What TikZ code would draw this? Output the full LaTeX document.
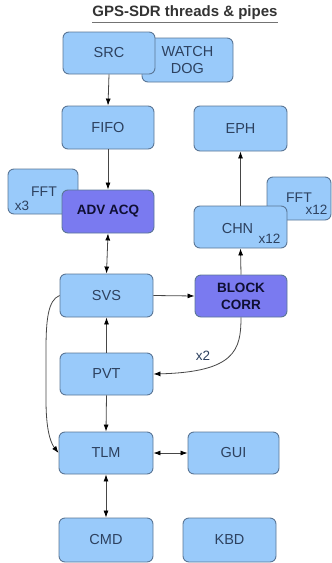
\documentclass[tikz,border=0pt]{standalone}
\usepackage{fontspec}
\setmainfont{Liberation Sans}
\usetikzlibrary{arrows.meta}
\definecolor{boxfill}{RGB}{153,202,250}
\definecolor{boxline}{RGB}{90,118,150}
\definecolor{darkfill}{RGB}{122,122,240}
\definecolor{txt}{RGB}{45,65,95}
\definecolor{darktxt}{RGB}{15,15,50}
\definecolor{arrowcol}{RGB}{70,70,70}
\tikzset{
  box/.style={draw=boxline, fill=boxfill, rounded corners=6pt, line width=0.9pt,
    text=txt, font=\fontsize{14.5}{17}\selectfont, inner sep=0pt, align=center},
  darkbox/.style={box, fill=darkfill, text=darktxt, font=\fontsize{13.5}{17}\selectfont\bfseries},
  small/.style={text=txt, font=\fontsize{13.5}{15}\selectfont, inner sep=0pt},
  conn/.style={draw=arrowcol, line width=0.8pt, -{Latex[length=7pt,width=5pt,color=black]}},
  dconn/.style={draw=arrowcol, line width=0.8pt, {Latex[length=7pt,width=5pt,color=black]}-{Latex[length=7pt,width=5pt,color=black]}}
}
\begin{document}
\begin{tikzpicture}[x=1pt,y=-1pt]
\useasboundingbox (0,0) rectangle (332,563);
% title
\node[text=black!80, font=\fontsize{15}{17}\selectfont\bfseries, inner sep=0pt] (title) at (185,13) {GPS-SDR threads \& pipes};
\draw[black!55, line width=0.8pt] ([yshift=-2pt]title.south west) -- ([yshift=-2pt]title.south east);
% background boxes
\node[box, minimum width=91pt, minimum height=44pt] (wd) at (187.5,60) {WATCH\\DOG};
\node[box, minimum width=70pt, minimum height=45pt] (fft3) at (43,191.5) {};
\node[small, font=\fontsize{14}{15}\selectfont] (fft3t) at (44,192) {FFT};
\node[small] (x3) at (22,206) {x3};
\node[box, minimum width=64pt, minimum height=43pt] (fft12) at (299,198.5) {};
\node[small, font=\fontsize{14}{15}\selectfont] (fft12t) at (299,197.5) {FFT};
\node[small] (x12a) at (316.5,210) {x12};
% main boxes
\node[box, minimum width=92pt, minimum height=42pt] (src) at (109,53) {SRC};
\node[box, minimum width=92pt, minimum height=43pt] (fifo) at (108,127.5) {FIFO};
\node[box, minimum width=93pt, minimum height=45pt] (eph) at (240.5,128.5) {EPH};
\node[darkbox, minimum width=92pt, minimum height=43pt] (adv) at (108,211.5) {ADV ACQ};
\node[box, minimum width=93pt, minimum height=42pt] (chn) at (240.5,227) {};
\node[inner sep=0pt, text=txt, font=\fontsize{14.5}{17}\selectfont] (chnt) at (237.5,228.5) {CHN};
\node[small] (x12b) at (269.5,239) {x12};
\node[box, minimum width=93pt, minimum height=43pt] (svs) at (106.5,295.5) {SVS};
\node[darkbox, minimum width=92pt, minimum height=42pt] (blk) at (241,296) {BLOCK\\CORR};
\node[box, minimum width=93pt, minimum height=42pt] (pvt) at (106.5,374) {PVT};
\node[box, minimum width=94pt, minimum height=42pt] (tlm) at (106,453) {TLM};
\node[box, minimum width=91pt, minimum height=42pt] (gui) at (233.5,453) {GUI};
\node[box, minimum width=94pt, minimum height=44pt] (cmd) at (106,540) {CMD};
\node[box, minimum width=93pt, minimum height=44pt] (kbd) at (229.5,540) {KBD};
% connectors
\draw[conn] (src.south) -- (fifo.north);
\draw[conn] (fifo.south) -- (adv.north);
\draw[dconn] (adv.south) -- (svs.north);
\draw[conn] (svs.east) -- (blk.west);
\draw[conn] (blk.north) -- (chn.south);
\draw[conn] (chn.north) -- (eph.south);
\draw[conn] (pvt.north) -- (svs.south);
\draw[conn] (pvt.south) -- (tlm.north);
\draw[dconn] (tlm.east) -- (gui.west);
\draw[dconn] (tlm.south) -- (cmd.north);
\draw[conn] (blk.south) .. controls (241,350) and (235,372) .. (pvt.east);
\node[small] (x2) at (203,356) {x2};
\draw[conn] (svs.west) .. controls (48,300) and (46,320) .. (46,350) -- (46,400) .. controls (46,428) and (50,442) .. (tlm.west);
\end{tikzpicture}
\end{document}
